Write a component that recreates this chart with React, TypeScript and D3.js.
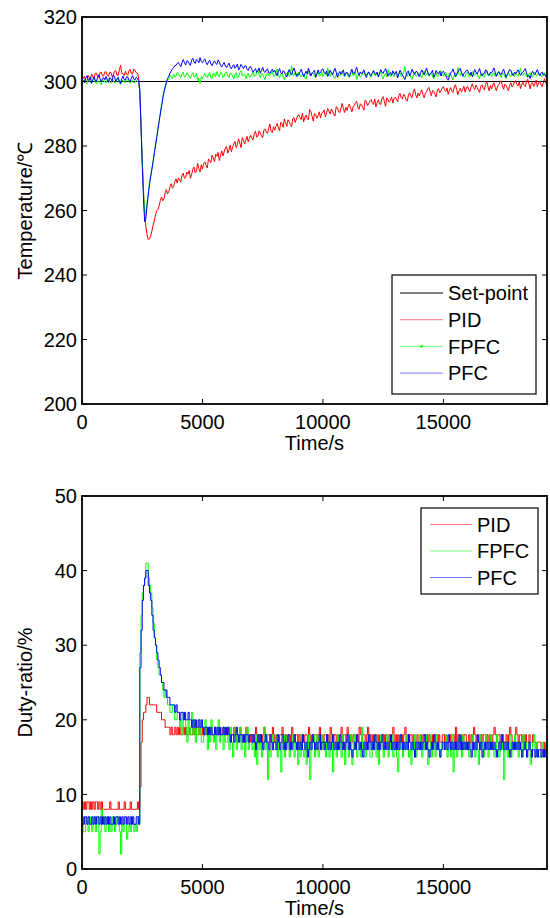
import React from 'react';
import * as d3 from 'd3';

// sampling interval of the recorded series (s); one row below = 1000 s
const sampleStep = 50;
const xMax = 19300;
const xTicks = [0, 5000, 10000, 15000];
const tempTicks = [200, 220, 240, 260, 280, 300, 320];
const dutyTicks = [0, 10, 20, 30, 40, 50];
const setPoint = 300;

const tempPID = [
  300.2, 301.1, 301.6, 300.4, 299.8, 301.9, 301.2, 300.6, 302.3, 301.4, 301.0, 302.5, 302.6, 301.3, 301.5, 302.8, 302.9, 301.7, 301.8, 303.0,
  303.0, 301.9, 301.6, 302.9, 302.8, 301.5, 302.1, 303.2, 303.4, 302.0, 301.9, 303.6, 305.0, 302.6, 302.4, 301.8, 303.2, 302.2, 302.0, 303.4,
  303.7, 302.4, 302.3, 303.9, 303.5, 302.7, 302.6, 301.5, 296.0, 286.0, 275.5, 266.5, 259.0, 255.0, 252.5, 251.0, 251.2, 252.0, 253.6, 255.4,
  256.8, 258.6, 259.9, 260.3, 261.4, 263.1, 264.2, 263.0, 263.6, 265.4, 266.5, 265.2, 265.8, 267.4, 268.3, 266.9, 267.4, 268.9, 269.8, 268.5,
  270.1, 269.5, 268.8, 270.9, 271.6, 270.0, 270.2, 271.9, 271.3, 272.4, 270.0, 271.2, 272.8, 273.5, 271.6, 272.1, 274.6, 273.0, 272.0, 274.2,
  272.8, 274.6, 275.1, 273.9, 273.2, 276.0, 275.5, 274.8, 277.2, 276.3, 275.1, 277.4, 276.8, 278.0, 275.5, 277.1, 278.5, 276.9, 278.2, 279.4,
  279.9, 277.8, 278.7, 280.3, 278.2, 279.6, 280.6, 281.4, 279.5, 280.4, 282.2, 280.9, 279.5, 282.6, 281.8, 280.7, 281.8, 283.0, 281.3, 282.4,
  283.3, 282.5, 281.9, 283.8, 284.6, 282.8, 283.0, 284.7, 284.0, 283.1, 282.6, 285.0, 285.3, 284.2, 283.9, 285.6, 286.8, 284.5, 284.1, 286.0,
  284.9, 286.1, 287.0, 285.6, 284.8, 287.4, 286.9, 285.8, 288.4, 287.2, 286.0, 288.1, 287.5, 286.6, 286.0, 288.5, 288.8, 287.3, 288.3, 289.4,
  289.7, 288.8, 288.2, 290.2, 287.5, 288.9, 289.6, 288.4, 288.2, 291.3, 290.7, 289.2, 287.7, 290.1, 289.7, 288.6, 289.5, 290.6, 288.7, 290.2,
  290.5, 291.2, 289.0, 290.3, 291.6, 290.8, 289.9, 291.5, 290.8, 289.9, 289.3, 292.2, 291.9, 290.6, 290.4, 291.8, 293.2, 291.6, 290.4, 292.0,
  291.0, 292.4, 293.0, 291.6, 290.6, 292.1, 292.6, 293.5, 293.9, 292.0, 291.4, 293.1, 292.7, 291.9, 291.1, 294.2, 293.7, 292.5, 293.1, 294.0,
  294.4, 293.4, 292.9, 294.6, 292.1, 293.5, 294.3, 293.0, 292.9, 294.8, 295.3, 293.8, 292.3, 294.9, 294.3, 293.6, 294.1, 295.2, 293.3, 294.7,
  295.2, 294.5, 293.7, 295.6, 296.3, 295.0, 294.6, 296.1, 295.4, 294.4, 293.9, 295.8, 296.5, 295.3, 295.0, 296.8, 297.7, 295.9, 294.9, 296.4,
  295.5, 296.6, 297.4, 296.0, 295.0, 296.3, 296.9, 297.7, 298.2, 296.8, 295.6, 297.2, 296.9, 296.0, 295.2, 297.4, 297.8, 296.5, 297.1, 298.0,
  298.4, 297.4, 296.9, 298.0, 296.0, 297.3, 298.1, 297.0, 296.6, 298.3, 299.0, 297.6, 295.9, 297.2, 297.9, 296.8, 297.5, 298.6, 296.7, 298.0,
  298.5, 297.6, 296.9, 298.4, 299.3, 298.1, 297.5, 298.9, 298.2, 297.3, 296.6, 298.5, 299.0, 297.9, 297.4, 299.1, 300.0, 298.4, 297.1, 298.7,
  297.7, 298.9, 299.6, 298.2, 297.1, 298.6, 299.0, 299.8, 300.2, 298.7, 297.6, 299.2, 298.8, 297.9, 297.1, 298.8, 299.6, 298.3, 298.9, 299.9,
  300.2, 299.1, 298.6, 299.9, 297.8, 299.0, 299.8, 298.8, 298.4, 300.1, 300.7, 299.2, 297.7, 299.4, 299.6, 298.5, 299.3, 300.4, 298.4, 299.6,
  300.1, 299.0, 298.4, 299.7, 300.9, 299.5, 299.0,
];

const tempFPFC = [
  299.5, 300.1, 300.6, 299.7, 299.2, 300.4, 300.3, 299.6, 299.8, 300.5, 300.8, 299.9, 299.3, 300.2, 300.1, 299.5, 299.0, 300.3, 300.5, 299.8,
  299.6, 300.4, 300.9, 299.8, 299.4, 300.6, 300.2, 299.5, 299.9, 300.8, 300.7, 299.6, 299.1, 300.1, 300.4, 299.8, 299.7, 300.5, 300.6, 299.9,
  299.4, 300.2, 300.3, 299.6, 299.7, 300.4, 300.1, 299.6, 297.0, 287.0, 276.0, 266.0, 259.0, 259.8, 262.5, 265.5, 268.5, 270.8, 273.0, 275.3,
  277.8, 280.3, 282.8, 285.3, 287.8, 290.2, 292.5, 294.6, 296.6, 298.1, 299.3, 300.3, 300.8, 301.9, 301.6, 300.9, 302.3, 301.4, 301.7, 302.8,
  302.6, 301.8, 301.2, 302.4, 302.9, 301.4, 301.5, 302.7, 302.3, 301.6, 300.9, 302.1, 302.7, 301.3, 301.6, 302.5, 300.2, 301.1, 299.4, 301.5,
  300.8, 301.9, 302.5, 301.6, 301.3, 302.2, 302.8, 301.1, 301.0, 302.6, 302.2, 301.5, 303.1, 302.0, 301.4, 302.9, 302.6, 301.2, 301.7, 302.8,
  302.9, 301.8, 301.3, 302.6, 302.4, 301.5, 300.8, 302.2, 302.7, 301.1, 301.6, 302.8, 303.3, 301.7, 301.9, 302.4, 300.9, 302.0, 302.5, 301.4,
  301.4, 302.3, 302.9, 301.6, 301.8, 302.7, 303.6, 302.1, 301.2, 302.5, 302.4, 301.3, 300.6, 302.2, 302.8, 301.7, 301.9, 302.6, 303.2, 301.5,
  301.7, 302.8, 303.9, 301.9, 301.2, 302.3, 302.6, 301.4, 300.5, 301.9, 302.3, 303.0, 301.6, 302.4, 304.9, 302.1, 301.8, 302.9, 302.5, 301.3,
  302.9, 301.8, 301.4, 302.5, 302.2, 301.1, 300.7, 302.4, 303.4, 302.0, 301.9, 302.8, 302.6, 301.5, 301.3, 302.7, 303.1, 301.6, 302.0, 302.9,
  301.5, 302.4, 302.8, 301.9, 304.2, 302.3, 301.6, 302.9, 302.3, 301.4, 300.9, 302.1, 302.7, 301.6, 301.8, 302.5, 303.3, 302.0, 301.4, 302.6,
  302.6, 301.5, 301.2, 302.4, 303.5, 301.8, 302.0, 302.9, 300.6, 301.7, 302.4, 301.3, 301.7, 302.6, 303.0, 301.9, 301.9, 302.7, 302.8, 301.6,
  301.3, 302.5, 303.4, 301.9, 302.0, 302.8, 301.5, 302.2, 302.9, 301.6, 300.8, 302.0, 302.5, 301.4, 303.7, 302.3, 301.6, 302.7, 302.2, 301.5,
  303.0, 301.9, 301.4, 302.6, 302.7, 301.5, 301.9, 302.8, 304.6, 302.2, 301.5, 302.7, 302.4, 301.3, 300.7, 302.0, 302.9, 301.7, 301.8, 302.6,
  302.4, 301.7, 301.1, 302.5, 303.3, 301.8, 302.0, 302.9, 301.6, 302.2, 302.8, 301.5, 300.9, 302.1, 302.6, 301.4, 301.7, 302.8, 303.4, 301.9,
  301.6, 302.5, 302.9, 301.7, 301.3, 302.6, 302.4, 301.2, 300.5, 301.9, 302.7, 301.6, 304.3, 302.2, 301.8, 302.9, 302.3, 301.4, 301.5, 302.6,
  302.8, 301.6, 301.4, 302.7, 303.1, 302.0, 301.9, 302.6, 302.5, 301.4, 300.8, 302.3, 302.6, 301.8, 301.3, 302.5, 303.5, 301.9, 302.1, 302.8,
  301.5, 302.4, 302.7, 301.6, 301.8, 302.9, 303.2, 301.9, 301.2, 302.6, 302.4, 301.5, 300.9, 302.1, 302.8, 301.7, 301.6, 302.7, 302.3, 301.4,
  302.9, 302.0, 301.6, 302.8, 304.1, 302.3, 301.8, 302.6, 302.5, 301.5, 301.1, 302.4, 302.7, 301.6, 301.4, 302.5, 303.0, 301.8, 301.9, 302.7,
  302.4, 301.7, 301.5, 302.6, 302.8, 301.9, 301.7,
];

const tempPFC = [
  300.9, 300.2, 299.6, 301.0, 301.8, 300.7, 300.3, 301.4, 299.4, 300.6, 301.5, 300.4, 300.0, 301.3, 302.1, 300.8, 299.9, 301.0, 301.2, 300.5,
  301.6, 300.5, 299.7, 301.2, 300.9, 300.1, 302.0, 301.4, 300.1, 300.7, 301.3, 300.2, 299.3, 300.8, 301.7, 300.6, 300.4, 301.5, 301.4, 300.3,
  300.0, 301.1, 301.8, 300.7, 300.5, 301.3, 301.0, 300.2, 297.5, 286.0, 274.0, 264.0, 256.5, 257.5, 261.5, 264.8, 268.0, 270.4, 272.7, 275.1,
  277.5, 280.0, 282.5, 285.0, 287.5, 289.9, 292.3, 294.6, 296.8, 298.3, 299.6, 300.9, 301.6, 302.6, 303.2, 303.9, 304.3, 304.9, 305.0, 305.6,
  305.9, 305.2, 304.6, 305.8, 306.8, 305.9, 305.1, 306.4, 306.3, 305.5, 305.0, 306.6, 307.2, 306.1, 305.6, 306.9, 306.5, 305.8, 307.4, 306.2,
  305.8, 306.5, 307.0, 305.9, 305.2, 306.1, 306.6, 305.4, 304.9, 305.8, 306.4, 305.6, 305.3, 306.7, 306.1, 305.0, 304.5, 305.3, 305.9, 304.8,
  304.3, 305.0, 305.7, 304.4, 303.9, 304.8, 305.2, 304.1, 304.6, 305.4, 303.6, 304.3, 305.3, 304.7, 304.0, 304.8, 304.9, 303.8, 303.4, 304.5,
  304.6, 303.7, 302.9, 303.5, 304.0, 302.8, 303.5, 304.2, 302.6, 303.4, 304.4, 303.1, 302.8, 303.6, 303.9, 302.7, 302.5, 303.3, 303.8, 302.9,
  303.5, 302.6, 301.8, 303.1, 304.0, 302.7, 302.3, 303.4, 303.0, 302.1, 301.4, 302.8, 303.7, 302.5, 302.0, 303.3, 304.2, 302.9, 301.6, 302.4,
  302.1, 303.0, 303.8, 302.6, 301.5, 302.4, 303.2, 302.3, 304.1, 302.9, 301.7, 302.6, 302.9, 303.5, 301.3, 302.2, 303.6, 302.4, 302.8, 303.7,
  303.9, 302.8, 302.4, 303.3, 301.6, 302.5, 303.5, 302.7, 302.0, 303.2, 304.1, 302.9, 301.3, 302.4, 303.1, 302.2, 302.7, 303.6, 301.8, 302.6,
  302.9, 302.2, 301.5, 302.8, 303.8, 302.5, 302.6, 303.4, 304.4, 302.8, 301.9, 303.0, 302.3, 302.9, 303.6, 302.4, 301.2, 302.3, 303.0, 302.1,
  301.8, 302.7, 303.4, 302.5, 302.2, 302.9, 301.4, 302.6, 303.7, 302.8, 302.5, 303.4, 304.0, 302.7, 301.6, 302.5, 302.8, 301.9, 303.3, 302.4,
  302.4, 303.2, 301.1, 302.3, 303.5, 302.7, 302.0, 301.4, 300.6, 301.8, 302.9, 303.3, 301.7, 302.6, 303.8, 302.9, 302.2, 303.0, 303.1, 302.3,
  301.5, 302.6, 303.6, 302.8, 302.1, 303.0, 304.2, 302.9, 301.9, 302.4, 302.7, 303.5, 301.3, 302.1, 303.4, 302.6, 302.5, 303.2, 301.7, 302.8,
  303.2, 302.4, 301.8, 300.9, 300.4, 301.6, 302.6, 303.1, 303.9, 302.7, 301.5, 302.3, 302.9, 303.6, 304.1, 302.8, 301.6, 302.5, 302.8, 303.4,
  303.5, 302.7, 302.0, 302.9, 301.4, 302.5, 303.7, 302.9, 302.3, 303.2, 304.0, 302.6, 301.7, 302.4, 302.5, 303.6, 303.3, 302.2, 301.9, 302.8,
  302.7, 303.4, 304.2, 302.8, 301.6, 302.5, 303.0, 302.3, 302.2, 303.1, 303.8, 302.6, 301.3, 302.2, 302.9, 303.7, 303.5, 302.4, 301.8, 302.9,
  302.4, 303.1, 303.6, 302.7, 301.9, 302.6, 302.8, 303.5, 304.0, 302.7, 301.5, 301.9, 300.9, 302.3, 303.2, 302.5, 302.1, 302.9, 303.7, 302.6,
  301.8, 302.6, 302.9, 302.0, 302.3, 301.4, 301.6,
];

const dutyPID = [
  9, 8, 9, 8, 9, 9, 8, 9, 8, 9, 8, 9, 9, 8, 9, 8, 9, 8, 8, 8,
  8, 8, 8, 9, 8, 8, 8, 8, 8, 8, 9, 8, 8, 8, 8, 9, 8, 8, 8, 8,
  9, 8, 8, 8, 8, 8, 9, 8, 11, 17, 20, 21, 21, 22, 23, 23, 22, 22, 22, 22,
  22, 22, 21, 21, 21, 21, 20, 20, 20, 19, 19, 19, 19, 18, 19, 18, 18, 19, 18, 19,
  18, 19, 18, 18, 19, 18, 19, 18, 18, 19, 18, 18, 19, 18, 19, 18, 18, 19, 18, 18,
  19, 18, 18, 19, 18, 18, 19, 18, 18, 18, 19, 18, 18, 19, 18, 18, 18, 19, 18, 18,
  18, 19, 18, 17, 18, 18, 19, 18, 17, 18, 18, 19, 18, 18, 17, 18, 19, 18, 18, 17,
  18, 18, 17, 18, 19, 18, 17, 18, 18, 17, 18, 19, 18, 17, 18, 18, 17, 18, 19, 18,
  17, 18, 18, 17, 18, 18, 19, 18, 17, 18, 17, 18, 18, 17, 19, 18, 17, 18, 18, 17,
  18, 17, 18, 18, 17, 18, 18, 17, 19, 18, 17, 18, 17, 18, 18, 17, 18, 19, 17, 18,
  17, 18, 18, 17, 18, 17, 19, 18, 17, 18, 18, 17, 18, 17, 18, 19, 17, 18, 18, 17,
  19, 18, 17, 18, 17, 18, 18, 17, 18, 17, 19, 18, 17, 18, 18, 17, 18, 19, 17, 18,
  17, 18, 17, 18, 18, 17, 18, 17, 17, 18, 18, 17, 18, 18, 17, 18, 17, 18, 19, 17,
  18, 17, 18, 17, 18, 18, 17, 18, 19, 17, 18, 17, 18, 18, 17, 18, 17, 17, 18, 17,
  17, 18, 17, 18, 18, 17, 18, 17, 18, 17, 17, 18, 17, 18, 18, 17, 18, 17, 17, 18,
  18, 17, 18, 17, 17, 18, 17, 18, 18, 17, 19, 17, 18, 17, 17, 18, 17, 18, 18, 17,
  17, 18, 17, 18, 17, 19, 18, 17, 18, 17, 17, 18, 17, 18, 18, 17, 18, 17, 18, 17,
  17, 18, 19, 18, 17, 18, 18, 17, 17, 18, 17, 17, 18, 17, 18, 19, 18, 17, 17, 18,
  19, 18, 17, 18, 18, 17, 18, 17, 18, 17, 17, 18, 17, 17, 18, 17, 17, 16, 17, 17,
  17, 16, 16, 17, 16, 17, 16,
];

const dutyFPFC = [
  6, 5, 5, 7, 6, 5, 7, 6, 5, 6, 7, 5, 6, 7, 2, 5, 8, 6, 7, 5,
  6, 7, 5, 6, 5, 7, 6, 5, 6, 7, 6, 5, 2, 6, 5, 7, 6, 4, 5, 6,
  5, 7, 6, 5, 6, 5, 7, 6, 29, 34, 37, 38, 39, 41, 41, 39, 38, 37, 35, 33,
  31, 30, 28, 27, 26, 26, 25, 24, 23, 24, 24, 22, 22, 21, 21, 22, 22, 20, 20, 21,
  21, 19, 20, 18, 21, 20, 19, 17, 20, 18, 19, 21, 18, 20, 17, 19, 20, 18, 19, 17,
  17, 19, 20, 18, 16, 19, 17, 20, 18, 17, 19, 16, 18, 20, 17, 19, 18, 16, 19, 17,
  17, 18, 16, 19, 17, 15, 18, 19, 16, 18, 17, 19, 16, 17, 18, 15, 17, 19, 16, 18,
  18, 16, 17, 15, 18, 14, 17, 16, 18, 15, 17, 19, 16, 18, 12, 16, 15, 17, 18, 16,
  16, 18, 15, 17, 16, 13, 17, 18, 15, 16, 18, 17, 15, 16, 17, 18, 15, 17, 16, 14,
  17, 15, 18, 16, 15, 17, 14, 16, 18, 12, 16, 17, 18, 15, 16, 18, 15, 17, 16, 18,
  16, 17, 15, 18, 17, 15, 16, 18, 13, 16, 17, 15, 18, 16, 17, 15, 18, 16, 14, 17,
  17, 15, 16, 18, 14, 16, 18, 17, 15, 16, 17, 15, 19, 16, 17, 15, 16, 18, 17, 15,
  15, 17, 16, 18, 15, 17, 14, 16, 18, 17, 15, 16, 17, 18, 15, 17, 16, 18, 15, 16,
  17, 15, 13, 16, 18, 16, 15, 17, 16, 18, 17, 15, 16, 14, 17, 16, 18, 15, 16, 17,
  18, 16, 15, 17, 16, 18, 17, 14, 16, 18, 15, 16, 17, 15, 18, 16, 17, 15, 16, 17,
  16, 17, 18, 15, 16, 17, 15, 18, 13, 16, 17, 15, 16, 18, 17, 15, 18, 16, 17, 16,
  17, 15, 16, 17, 18, 16, 15, 17, 16, 14, 18, 16, 17, 15, 16, 18, 17, 15, 16, 18,
  16, 17, 15, 16, 18, 17, 15, 16, 18, 16, 12, 16, 17, 15, 16, 18, 15, 17, 16, 18,
  16, 17, 15, 16, 17, 15, 18, 16, 17, 15, 16, 17, 14, 16, 17, 18, 15, 17, 16, 15,
  15, 16, 17, 15, 16, 17, 15,
];

const dutyPFC = [
  7, 6, 7, 7, 6, 7, 6, 6, 7, 6, 7, 6, 7, 7, 6, 7, 6, 7, 6, 7,
  6, 7, 6, 7, 6, 6, 7, 6, 7, 7, 6, 7, 6, 7, 6, 7, 7, 6, 7, 6,
  7, 6, 7, 6, 6, 7, 7, 6, 27, 32, 36, 38, 39, 40, 40, 38, 37, 36, 34, 32,
  31, 30, 29, 28, 27, 26, 25, 25, 24, 24, 23, 23, 23, 22, 22, 22, 22, 21, 22, 21,
  21, 20, 21, 21, 20, 21, 20, 20, 21, 20, 20, 19, 20, 19, 20, 19, 19, 20, 19, 20,
  19, 18, 19, 19, 18, 19, 18, 19, 18, 18, 19, 18, 19, 18, 19, 18, 18, 19, 18, 19,
  18, 19, 18, 17, 18, 18, 17, 18, 19, 18, 17, 18, 18, 17, 18, 17, 18, 18, 17, 18,
  18, 17, 18, 17, 16, 17, 18, 17, 18, 17, 16, 17, 18, 17, 17, 16, 18, 17, 16, 17,
  17, 16, 18, 17, 16, 17, 18, 16, 17, 16, 17, 18, 16, 17, 16, 17, 18, 17, 16, 17,
  16, 17, 16, 18, 17, 16, 17, 15, 16, 17, 16, 18, 17, 16, 17, 16, 17, 18, 16, 17,
  17, 16, 17, 18, 16, 17, 16, 17, 18, 16, 17, 16, 17, 16, 18, 17, 16, 17, 16, 17,
  18, 16, 17, 16, 15, 16, 17, 16, 18, 17, 16, 17, 16, 15, 17, 16, 17, 16, 18, 17,
  16, 17, 16, 18, 17, 16, 17, 16, 17, 18, 16, 17, 16, 17, 16, 17, 18, 16, 17, 16,
  17, 16, 17, 16, 18, 17, 16, 17, 16, 17, 16, 18, 17, 16, 17, 16, 15, 17, 16, 17,
  16, 17, 16, 17, 18, 16, 17, 16, 15, 16, 17, 16, 18, 17, 16, 17, 16, 15, 16, 17,
  17, 16, 17, 16, 18, 17, 16, 17, 16, 17, 16, 17, 16, 18, 16, 17, 16, 17, 16, 17,
  16, 17, 16, 15, 17, 16, 17, 16, 18, 17, 16, 17, 15, 16, 17, 16, 17, 16, 17, 16,
  17, 16, 17, 16, 15, 16, 17, 16, 18, 17, 16, 17, 16, 17, 16, 15, 16, 17, 16, 17,
  16, 17, 16, 17, 16, 15, 16, 17, 16, 15, 16, 17, 16, 15, 16, 16, 15, 16, 15, 16,
  16, 15, 16, 15, 16, 15, 15,
];

const tempLegend = ['Set-point', 'PID', 'FPFC', 'PFC'];
const dutyLegend = ['PID', 'FPFC', 'PFC'];
const colors: Record<string, string> = {
  'Set-point': '#000000',
  PID: '#ff0000',
  FPFC: '#00ff00',
  PFC: '#0000ff',
};

const FONT = '"Liberation Sans", Arial, Helvetica, sans-serif';
const W = 550;
const H = 918;
const L = 82;
const R = 547;

type PanelProps = {
  top: number;
  bottom: number;
  yDomain: [number, number];
  yTicks: number[];
  yTitle: string;
  series: { name: string; values: number[] }[];
  step: boolean;
  refLine?: number;
  legend: string[];
  legendBox: { x: number; y: number; w: number; h: number; lineX0: number; lineX1: number; textX: number; rowY0: number; rowGap: number };
  clipId: string;
  markerOn?: string;
};

function Panel(p: PanelProps) {
  const x = d3.scaleLinear().domain([0, xMax]).range([L, R]);
  const y = d3.scaleLinear().domain(p.yDomain).range([p.bottom, p.top]);
  const line = d3
    .line<number>()
    .x((_, i) => x(i * sampleStep))
    .y((d) => y(d))
    .curve(p.step ? d3.curveStepAfter : d3.curveLinear);
  const tl = 5;
  const lb = p.legendBox;
  return (
    <g>
      <defs>
        <clipPath id={p.clipId}>
          <rect x={L} y={p.top} width={R - L} height={p.bottom - p.top} />
        </clipPath>
      </defs>
      <rect x={L} y={p.top} width={R - L} height={p.bottom - p.top} fill="#fff" />
      <g clipPath={`url(#${p.clipId})`}>
        {p.refLine !== undefined && (
          <line x1={x(0)} x2={x(xMax)} y1={y(p.refLine)} y2={y(p.refLine)} stroke="#000" strokeWidth={1.2} />
        )}
        {p.series.map((s) => (
          <path key={s.name} d={line(s.values) || ''} fill="none" stroke={colors[s.name]} strokeWidth={1} />
        ))}
      </g>
      {xTicks.map((t) => (
        <g key={'xt' + t}>
          <line x1={x(t)} x2={x(t)} y1={p.bottom} y2={p.bottom - tl} stroke="#000" strokeWidth={1} />
          <line x1={x(t)} x2={x(t)} y1={p.top} y2={p.top + tl} stroke="#000" strokeWidth={1} />
          <text x={x(t)} y={p.bottom + 25} textAnchor="middle" fontSize={20} fontFamily={FONT}>
            {t}
          </text>
        </g>
      ))}
      {p.yTicks.map((t) => (
        <g key={'yt' + t}>
          <line x1={L} x2={L + tl} y1={y(t)} y2={y(t)} stroke="#000" strokeWidth={1} />
          <line x1={R} x2={R - tl} y1={y(t)} y2={y(t)} stroke="#000" strokeWidth={1} />
          <text x={L - 5} y={y(t)} dy="0.36em" textAnchor="end" fontSize={20} fontFamily={FONT}>
            {t}
          </text>
        </g>
      ))}
      <rect x={L} y={p.top} width={R - L} height={p.bottom - p.top} fill="none" stroke="#000" strokeWidth={1.8} />
      <text x={(L + R) / 2} y={p.bottom + 46} textAnchor="middle" fontSize={20} fontFamily={FONT}>
        Time/s
      </text>
      <text
        transform={`translate(32,${(p.top + p.bottom) / 2}) rotate(-90)`}
        textAnchor="middle"
        fontSize={20}
        fontFamily={FONT}
      >
        {p.yTitle}
      </text>
      <rect x={lb.x} y={lb.y} width={lb.w} height={lb.h} fill="#fff" stroke="#000" strokeWidth={1.2} />
      {p.legend.map((name, i) => {
        const ly = lb.rowY0 + i * lb.rowGap;
        const isRef = name === 'Set-point';
        return (
          <g key={'lg' + name}>
            <line
              x1={lb.lineX0}
              x2={lb.lineX1}
              y1={ly}
              y2={ly}
              stroke={colors[name]}
              strokeOpacity={isRef ? 1 : 0.55}
              strokeWidth={1}
            />
            {name === p.markerOn && (
              <circle cx={(lb.lineX0 + lb.lineX1) / 2} cy={ly} r={1.3} fill={colors[name]} />
            )}
            <text x={lb.textX} y={ly} dy="0.36em" fontSize={20} fontFamily={FONT}>
              {name}
            </text>
          </g>
        );
      })}
    </g>
  );
}

export default function App() {
  return (
    <svg width={W} height={H} style={{ position: 'absolute', left: 0, top: 0, background: '#fff' }}>
      <rect x={0} y={0} width={W} height={H} fill="#fff" />
      <Panel
        clipId="clipTemp"
        top={17}
        bottom={404}
        yDomain={[200, 320]}
        yTicks={tempTicks}
        yTitle="Temperature/℃"
        step={false}
        refLine={setPoint}
        series={[
          { name: 'PID', values: tempPID },
          { name: 'FPFC', values: tempFPFC },
          { name: 'PFC', values: tempPFC },
        ]}
        legend={tempLegend}
        markerOn="FPFC"
        legendBox={{ x: 392, y: 275, w: 144, h: 119, lineX0: 400, lineX1: 443, textX: 448, rowY0: 293, rowGap: 26.7 }}
      />
      <Panel
        clipId="clipDuty"
        top={496}
        bottom={869}
        yDomain={[0, 50]}
        yTicks={dutyTicks}
        yTitle="Duty-ratio/%"
        step={true}
        series={[
          { name: 'PID', values: dutyPID },
          { name: 'FPFC', values: dutyFPFC },
          { name: 'PFC', values: dutyPFC },
        ]}
        legend={dutyLegend}
        legendBox={{ x: 421, y: 508, w: 117, h: 86, lineX0: 430, lineX1: 472, textX: 477, rowY0: 524.5, rowGap: 26.5 }}
      />
    </svg>
  );
}
